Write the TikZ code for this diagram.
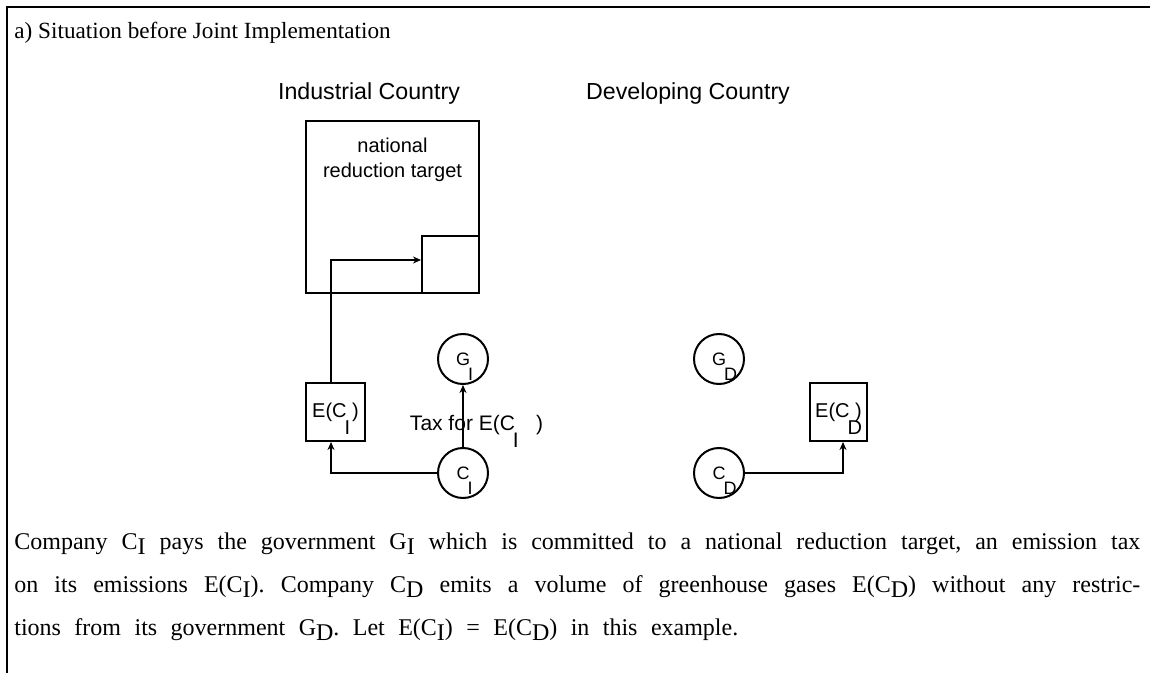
\documentclass[tikz,border=0pt]{standalone}
\usepackage{fontspec}
\setmainfont{Liberation Serif}
\setsansfont{Liberation Sans}
\usetikzlibrary{positioning}
\usetikzlibrary{arrows.meta}

% index letter dropped below the letter it belongs to
\newcommand{\lowsub}[1]{\rlap{\smash{\kern-0.1em\raisebox{-0.85em}{#1}}}}
% index in the running text
\newcommand{\txtsub}[1]{\raisebox{-0.22em}{#1}}

\begin{document}
\begin{tikzpicture}[x=0.5pt, y=-0.5pt]
    \tikzset{
        box/.style={rectangle, draw, line width=1pt, inner sep=0pt, font=\sffamily\fontsize{10}{12.5}\selectfont},
        actor/.style={circle, draw, line width=1pt, minimum size=25pt, inner sep=0pt, font=\sffamily\fontsize{9}{11}\selectfont},
        country/.style={font=\sffamily\fontsize{11.6}{13}\selectfont, anchor=base},
        frame/.style={line width=1pt},
        flow/.style={draw, line width=1pt, -{Stealth[length=4pt, width=3.5pt]}}
    }

    \useasboundingbox (0,0) rectangle (1150,673);
    \draw[frame] (1150,7) -- (7,7) -- (7,673);

    \node[anchor=base west, inner sep=0pt, font=\fontsize{11.6}{14}\selectfont] (title) at (14,39) {a) Situation before Joint Implementation};

    \node[country] (industrial) at (369,100) {Industrial Country};
    \node[country] (developing) at (688,100) {Developing Country};

    \node[box, minimum width=86.5pt, minimum height=86pt] (target) at (392.5,207) {};
    \node[box, draw=none, align=center, below=8.5pt of target.north] (targettext) {national\\reduction target};
    \node[box, minimum size=28.5pt] (quota) at (450.5,264.5) {};

    \node[box, minimum width=29.5pt, minimum height=29pt] (ei) at (335.5,412) {E(C\lowsub{I}\ )};
    \node[box, minimum width=28.5pt, minimum height=29pt] (ed) at (838.5,412) {E(C\lowsub{D}\ )};

    \node[actor] (gi) at (463,359) {G\lowsub{I}};
    \node[actor] (ci) at (463,473) {C\lowsub{I}};
    \node[actor] (gd) at (719,359) {G\lowsub{D}};
    \node[actor] (cd) at (719,473) {C\lowsub{D}};

    \path[flow] (ci.west) -| ([xshift=-2.25pt]ei.south);
    \path[flow] ([xshift=-2.25pt]ei.north) |- ([yshift=2.25pt]quota.west);
    \path[flow] (ci) -- node[pos=0.36, xshift=6.75pt, font=\sffamily\fontsize{10.5}{12}\selectfont] (tax) {Tax for E(C\lowsub{I}\quad)} (gi);
    \path[flow] (cd.east) -| ([xshift=2.25pt]ed.south);

    % last line is set loose, so it gets a paragraph of its own
    \node[anchor=north west, inner sep=0pt, text width=563pt, align=justify, font=\fontsize{12}{21.5}\selectfont\frenchspacing] (caption) at (14,532) {{\parfillskip=0pt\noindent Company C\txtsub{I} pays the government G\txtsub{I} which is committed to a national reduction target, an emission tax\linebreak on its emissions E(C\txtsub{I}). Company C\txtsub{D} emits a volume of greenhouse gases E(C\txtsub{D}) without any restric-\par}
        {\noindent\spaceskip=0.56em plus 0.1em tions from its government G\txtsub{D}. Let E(C\txtsub{I}) = E(C\txtsub{D}) in this example.\par}};
\end{tikzpicture}
\end{document}
